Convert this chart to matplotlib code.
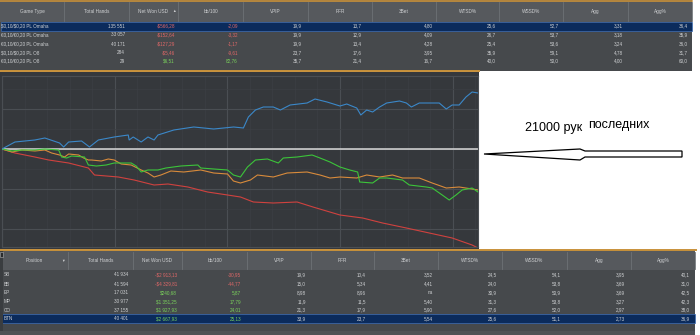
import matplotlib.pyplot as plt
import matplotlib.patches as mpatches
from matplotlib.ticker import MultipleLocator

##################################################
## graph: hands played (x) vs net won USD (y)
blue_x = [0, 570, 1450, 1890, 2540, 2720, 2940, 3510, 3860, 4250, 4950, 5570, 5610, 5790, 6140,
          6440, 6710, 6880, 7580, 8460, 9340, 10220, 10650, 10870, 11180, 11530, 11970, 12280,
          12710, 13460, 13810, 14340, 14910, 15210, 15650, 15830, 16090, 16350, 16660, 16970,
          17540, 17840, 18060, 18410, 19290, 19600, 19860, 20170, 20470, 20740, 21000]
blue_y = [0, 35, 45, 55, 30, 10, 35, 40, 10, 45, 60, 70, 45, 60, 35, 60, 45, 70, 95, 110,
          100, 110, 105, 160, 195, 210, 210, 195, 220, 230, 250, 235, 215, 225, 205, 170,
          195, 185, 210, 230, 240, 230, 210, 230, 230, 200, 220, 220, 260, 285, 280]

orange_x = [0, 440, 880, 1450, 1890, 2190, 2540, 2760, 2940, 3380, 3600, 3810, 3950, 4380,
            4690, 4950, 5260, 5700, 6140, 6440, 6710, 7010, 7450, 8020, 8770, 9340, 9950,
            10210, 10520, 10960, 11270, 11970, 12580, 13460, 14030, 14470, 14910, 15650,
            16090, 16660, 17230, 17670, 18410, 18980, 19600, 20170, 20740, 21000]
orange_y = [0, -15, -5, -10, -5, -20, -30, -40, -25, -30, -45, -55, -55, -60, -50, -55, -75,
            -80, -105, -120, -140, -130, -110, -115, -105, -120, -125, -160, -170, -155, -130,
            -140, -120, -115, -130, -145, -140, -145, -130, -140, -130, -145, -145, -170,
            -195, -190, -200, -205]

green_x = [0, 440, 880, 1450, 1890, 2500, 2630, 2850, 3070, 3640, 3810, 4160, 4600, 4950,
           5700, 5920, 6140, 6440, 6880, 7230, 7890, 8640, 8770, 9340, 9950, 10210, 10520,
           10830, 11180, 11710, 12190, 12410, 13020, 13680, 14030, 14470, 14910, 15340,
           15690, 15780, 16350, 16660, 16970, 17670, 17970, 18720, 18980, 19420, 19730,
           20030, 20300, 20740, 21000]
green_y = [0, -10, -5, -5, 0, -5, -40, -45, -35, -40, -80, -85, -80, -70, -70, -85, -115,
           -105, -105, -95, -85, -80, -95, -100, -105, -130, -140, -90, -55, -50, -70, -45,
           -40, -30, -45, -65, -90, -105, -115, -165, -170, -145, -145, -155, -180, -190,
           -195, -230, -255, -230, -205, -195, -215]

red_x = [0, 570, 1450, 2060, 2940, 3810, 4080, 5130, 5830, 6710, 7320, 8200, 9070, 9950,
         10520, 11090, 11970, 13020, 13720, 14910, 15910, 16790, 17840, 18850, 19860, 20740, 21000]
red_y = [0, -20, -40, -55, -70, -95, -130, -140, -155, -180, -175, -190, -215, -230, -240,
         -265, -270, -265, -290, -330, -345, -370, -395, -420, -445, -480, -495]

##################################################
## top table (by game type)
top_headers = ['Game Type', 'Total Hands', 'Net Won USD', 'bb/100', 'VPIP', 'PFR', '3Bet',
               'WTSD%', 'WSSD%', 'Agg', 'Agg%']
top_rows = [
    ['$0,10/$0,20 PL Omaha', '135 551', '-$566,28', '-2,09', '19,9', '13,7', '4,80', '25,6', '52,7', '3,31', '36,4'],
    ['€0,10/€0,20 PL Omaha', '33 057', '-$152,64', '-3,32', '19,9', '12,9', '4,09', '26,7', '53,7', '3,18', '35,9'],
    ['€0,10/€0,20 PL Omaha', '40 171', '-$127,29', '-1,17', '19,9', '13,4', '4,28', '25,4', '53,6', '3,24', '36,0'],
    ['$0,10/$0,20 PL O8', '284', '-$5,46', '-9,61', '23,7', '17,6', '3,95', '35,9', '59,1', '4,78', '31,7'],
    ['€0,10/€0,20 PL O8', '29', '$6,51', '82,76', '35,7', '21,4', '16,7', '40,0', '50,0', '4,00', '60,0'],
]
## bottom table (by position)
bot_headers = ['Position', 'Total Hands', 'Net Won USD', 'bb/100', 'VPIP', 'PFR', '3Bet',
               'WTSD%', 'WSSD%', 'Agg', 'Agg%']
bot_rows = [
    ['SB', '41 934', '-$2 913,13', '-30,95', '19,9', '10,4', '3,52', '24,5', '54,1', '3,95', '40,1'],
    ['BB', '41 594', '-$4 329,81', '-44,77', '15,0', '5,34', '4,41', '24,0', '53,8', '3,69', '31,0'],
    ['EP', '17 031', '$240,68', '5,87', '8,98', '8,96', 'na', '30,9', '50,9', '3,69', '42,5'],
    ['MP', '30 977', '$1 351,25', '17,79', '11,9', '11,5', '5,40', '31,3', '53,8', '3,27', '42,3'],
    ['CO', '37 155', '$1 927,93', '24,01', '21,3', '17,9', '5,90', '27,6', '52,0', '2,97', '38,0'],
    ['BTN', '40 401', '$2 667,93', '25,13', '33,9', '23,7', '5,54', '25,6', '51,1', '2,73', '36,9'],
]
note_a = '21000 рук'
note_b = 'последних'

##################################################
ORANGE = '#c8913a'
TXT = '#cfd1d3'
RED = '#e26868'
GREEN = '#7bd45c'
FONT = ['Liberation Sans', 'DejaVu Sans']

fig = plt.figure(figsize=(7, 3.35), dpi=100)
fig.patch.set_facecolor('white')

## background axes in pixel coordinates
bg = fig.add_axes([0, 0, 1, 1])
bg.set_xlim(0, 700)
bg.set_ylim(335, 0)
bg.axis('off')


def rect(x0, y0, x1, y1, color, **kw):
    bg.add_patch(mpatches.Rectangle((x0, y0), x1 - x0, y1 - y0, facecolor=color, lw=0, **kw))


def txt(x, y, s, ha, size, color):
    bg.text(x, y, s, ha=ha, va='center', fontsize=size, color=color, family=FONT, parse_math=False)


def draw_table(y0, y1, x_end, head_y0, head_y1, headers, rows, seps, rights, row_ys, hl, label_x, arrow_x, arrow):
    rect(0, y0, x_end, y1, '#46494c')
    rect(0, head_y0, x_end, head_y1, '#56595d')
    for s in seps:
        bg.plot([s, s], [head_y0 + 1, head_y1 - 1], color='#6d7175', lw=0.6)
    lefts = [0] + seps[:-1]
    hy = (head_y0 + head_y1) / 2
    for i, h in enumerate(headers):
        txt((lefts[i] + seps[i]) / 2, hy, h, 'center', 3.4, TXT)
    txt(arrow_x, hy, arrow, 'center', 2.6, TXT)
    rh = row_ys[1] - row_ys[0]
    ry0 = row_ys[hl] - rh / 2
    bg.add_patch(mpatches.Rectangle((0.5, ry0), x_end - 1, rh, facecolor='#0b2b5c',
                                    edgecolor='#3f6fb5', lw=0.5))
    for r, row in enumerate(rows):
        y = row_ys[r]
        txt(label_x, y, row[0], 'left', 3.3, TXT)
        for c, val in enumerate(row[1:]):
            col = TXT
            if c in (1, 2):
                col = RED if val.startswith('-') else GREEN
            txt(rights[c], y, val, 'right', 3.3, col)


## top table
draw_table(0, 71, 692, 1, 22, top_headers, top_rows,
           [64, 129, 178, 243, 308, 372, 436, 499, 563, 628, 692],
           [125, 175, 238, 302, 362, 433, 496, 559, 623, 688],
           [26, 35, 44, 52.6, 61.2], 0, 1, 174, '▲')
bg.plot([0, 692], [0.7, 0.7], color=ORANGE, lw=1.2)
bg.plot([0, 479], [70.8, 70.8], color=ORANGE, lw=1.4)

## bottom table
draw_table(250, 335, 695, 251, 270, bot_headers, bot_rows,
           [68, 133, 182, 247, 311, 374, 438, 502, 567, 631, 695],
           [128, 177, 241, 306, 366, 433, 497, 561, 625, 690],
           [275, 284, 292.8, 301.5, 310.2, 318.9], 5, 4, 63, '▼')
rect(0, 251, 3, 335, '#3a3d40')
bg.add_patch(mpatches.Rectangle((0.3, 251.5), 2.4, 5.5, facecolor='#2a2c2e', edgecolor='#b0b0b0', lw=0.4))
rect(0, 331, 695, 335, '#4f5255')
bg.plot([0, 696], [249.5, 249.5], color=ORANGE, lw=1.4)

## chart panel
rect(0, 71.5, 479, 249, '#35383c')

## white area: note and arrow
txt(525, 128.5, note_a, 'left', 9, 'black')
txt(588, 125, note_b, 'left', 9, 'black')
bg.add_patch(mpatches.Polygon([(484, 154), (580, 149), (585, 151), (682, 151), (682, 157),
                               (585, 157), (580, 160)], closed=True, facecolor='white',
                              edgecolor='black', lw=0.9))

##################################################
## graph
ax = fig.add_axes([2 / 700, 1 - 247 / 335, 476 / 700, 171 / 335])
ax.set_facecolor('#35383c')
ax.set_zorder(2)
ax.set_xlim(0, 21000)
ax.set_ylim(-490, 365)
ax.xaxis.set_major_locator(MultipleLocator(4970))
ax.xaxis.set_minor_locator(MultipleLocator(994))
ax.yaxis.set_major_locator(MultipleLocator(200))
ax.yaxis.set_minor_locator(MultipleLocator(100))
ax.grid(which='major', color='#4a4e53', lw=0.8)
ax.grid(which='minor', color='#3c3f44', lw=0.5)
ax.set_axisbelow(True)
ax.tick_params(which='both', length=0, labelbottom=False, labelleft=False)
for sp in ax.spines.values():
    sp.set_color('#4a4e53')
    sp.set_linewidth(0.8)
ax.axhline(0, color='#d9d9d9', lw=1.1, zorder=1)
ax.plot(red_x, red_y, color='#d0423f', lw=0.8, zorder=2)
ax.plot(orange_x, orange_y, color='#d98b3b', lw=0.8, zorder=3)
ax.plot(green_x, green_y, color='#3cc43a', lw=0.8, zorder=4)
ax.plot(blue_x, blue_y, color='#3b88c9', lw=0.8, zorder=5)

fig.savefig('out.png', dpi=100)
plt.close('all')
